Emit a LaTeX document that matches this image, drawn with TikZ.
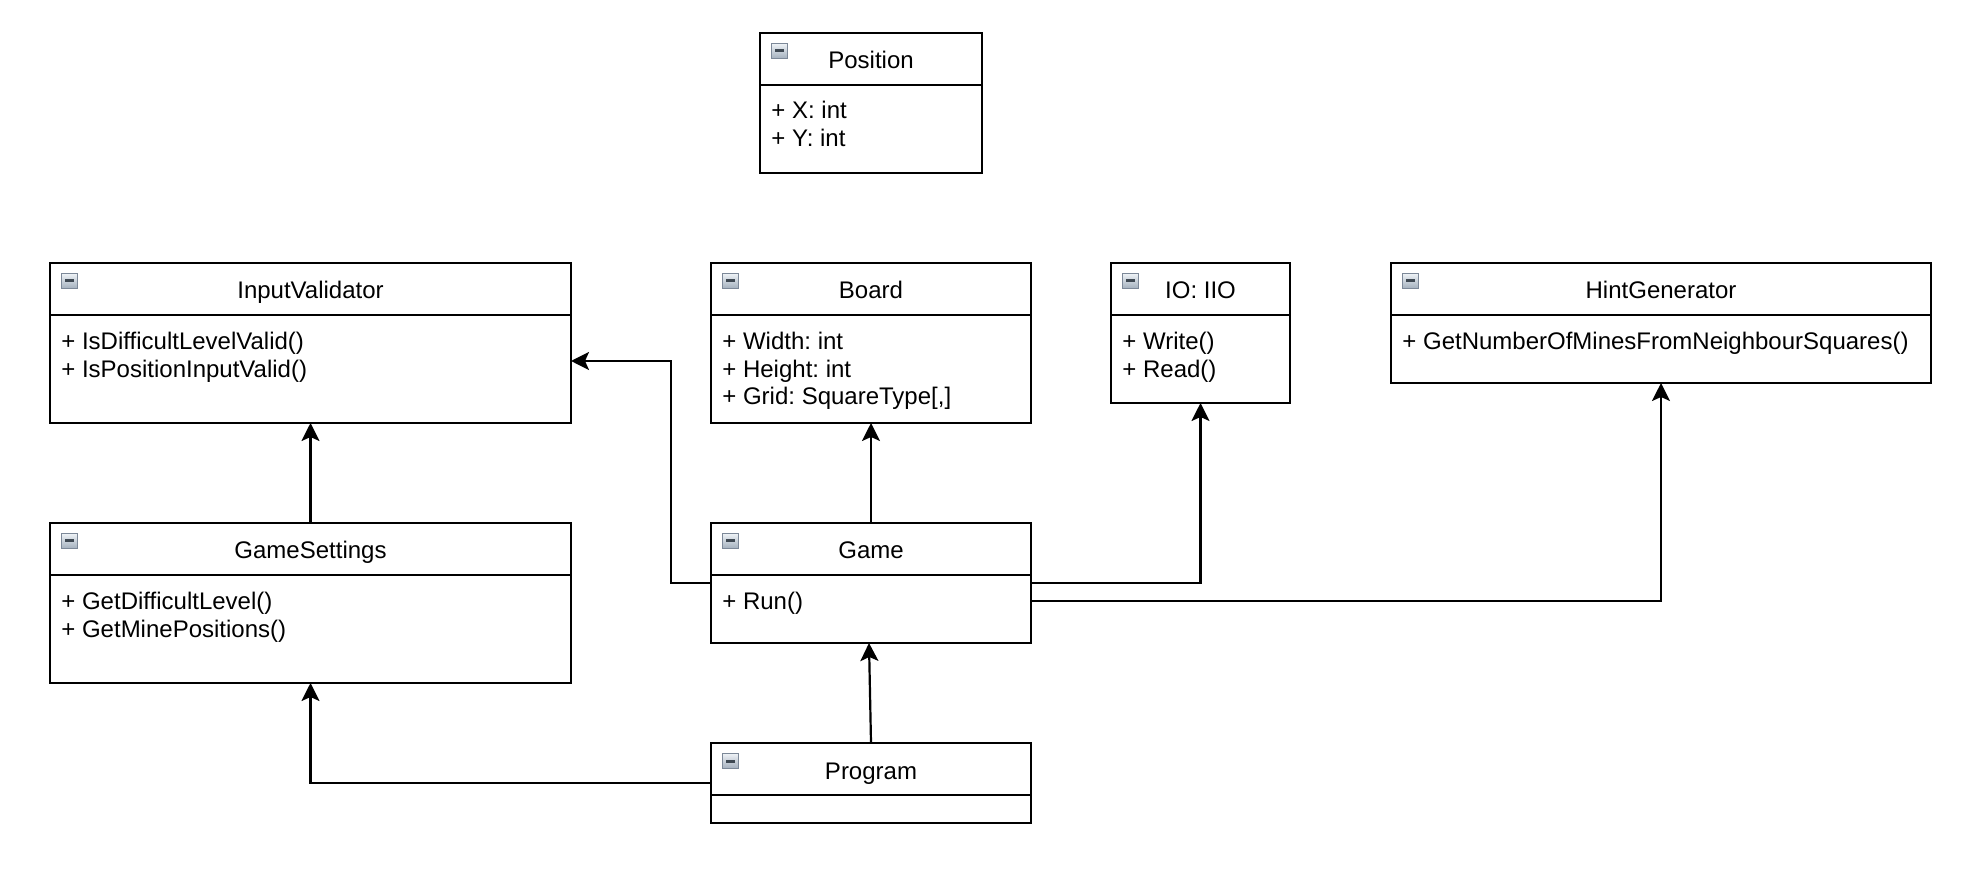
\documentclass[tikz,border=0pt]{standalone}
\usepackage{fontspec}
\setmainfont{Liberation Sans}
\usetikzlibrary{arrows.meta}
\definecolor{iconTop}{HTML}{EEF2F6}
\definecolor{iconBot}{HTML}{A3AFBD}
\definecolor{iconBorder}{HTML}{7C8898}
\definecolor{iconBar}{HTML}{3E4852}
\tikzset{
  cbox/.style={draw=black, line width=1.1pt, fill=white, rectangle, inner sep=0pt, outer sep=0pt},
  cline/.style={draw=black, line width=1.1pt},
  ctitle/.style={inner sep=0pt, anchor=base, font=\fontsize{12}{14}\selectfont\frenchspacing},
  cattr/.style={inner sep=0pt, anchor=base west, font=\fontsize{12}{14}\selectfont\frenchspacing},
  arr/.style={draw=black, line width=1.1pt, -{Stealth[length=9pt,width=9pt,inset=2pt]}},
}
% #1 name, #2 x1, #3 y1, #4 x2, #5 y2, #6 title
\newcommand\umlclass[6]{%
  \node[cbox, minimum width={(#4-#2)*0.5pt}, minimum height={(#5-#3)*0.5pt}] (#1) at ({(#2+#4)/2},{(#3+#5)/2}) {};
  \draw[cline] (#2,#3+52) -- (#4,#3+52);
  \node[ctitle] (#1-title) at ({(#2+#4)/2},#3+36) {#6};
  \shade[top color=iconTop, bottom color=iconBot, draw=iconBorder, line width=0.4pt] (#2+11.5,#3+10.5) rectangle (#2+27,#3+25.5);
  \fill[iconBar] (#2+14.5,#3+16.5) rectangle (#2+24,#3+19.5);
}
% #1 name, #2 x, #3 baseline y, #4 text
\newcommand\umlattr[4]{%
  \node[cattr] (#1) at (#2,#3) {#4};
}
\begin{document}
\begin{tikzpicture}[x=0.5pt,y=-0.5pt]
\useasboundingbox (0,0) rectangle (1974,870);
\fill[white] (0,0) rectangle (1974,870);

% Position
\umlclass{pos}{760}{33}{982}{173}{Position}
\umlattr{pos-a1}{771}{119}{+ X: int}
\umlattr{pos-a2}{771}{146.5}{+ Y: int}

% InputValidator
\umlclass{iv}{50}{263}{571}{423}{InputValidator}
\umlattr{iv-a1}{61}{350}{+ IsDifficultLevelValid()}
\umlattr{iv-a2}{61}{377.5}{+ IsPositionInputValid()}

% Board
\umlclass{board}{711}{263}{1031}{423}{Board}
\umlattr{board-a1}{722}{350}{+ Width: int}
\umlattr{board-a2}{722}{377.5}{+ Height: int}
\umlattr{board-a3}{722}{405}{+ Grid: SquareType[,]}

% IO
\umlclass{io}{1111}{263}{1290}{403}{IO: IIO}
\umlattr{io-a1}{1122}{350}{+ Write()}
\umlattr{io-a2}{1122}{377.5}{+ Read()}

% HintGenerator
\umlclass{hg}{1391}{263}{1931}{383}{HintGenerator}
\umlattr{hg-a1}{1402}{350}{+ GetNumberOfMinesFromNeighbourSquares()}

% GameSettings
\umlclass{gs}{50}{523}{571}{683}{GameSettings}
\umlattr{gs-a1}{61}{610}{+ GetDifficultLevel()}
\umlattr{gs-a2}{61}{637.5}{+ GetMinePositions()}

% Game
\umlclass{game}{711}{523}{1031}{643}{Game}
\umlattr{game-a1}{722}{610}{+ Run()}

% Program
\umlclass{prog}{711}{743}{1031}{823}{Program}

% connectors
\draw[arr] (gs.north) -- (iv.south);
\draw[arr] (game.west) -- ++(-40,0) |- ([yshift=-9pt]iv.east);
\draw[arr] (game.north) -- (board.south);
\draw[arr] (game.east) -| (io.south);
\draw[arr] ([yshift=-9pt]game.east) -| (hg.south);
\draw[arr] (prog.north) -- ([xshift=-1pt]game.south);
\draw[arr] (prog.west) -| (gs.south);
\end{tikzpicture}
\end{document}
